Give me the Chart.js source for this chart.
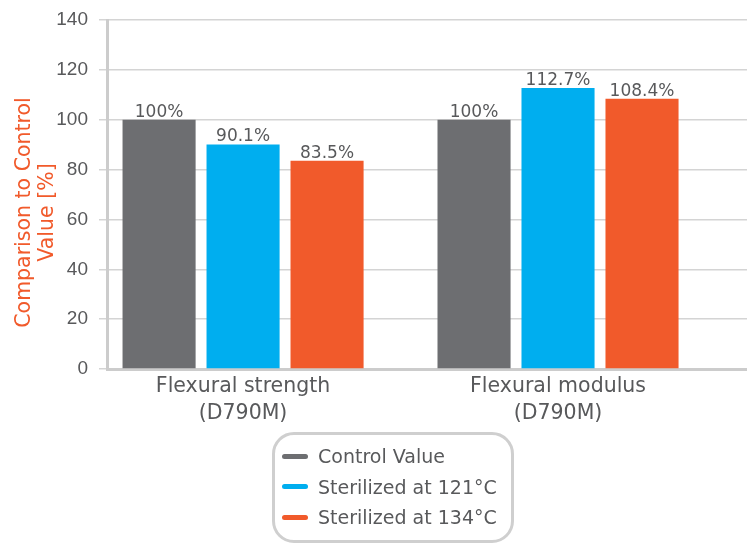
<!DOCTYPE html>
<html>
<head>
<meta charset="utf-8">
<script src="https://cdn.jsdelivr.net/npm/chart.js@4"></script>
<style>
  html, body { margin: 0; padding: 0; background: #fff; }
  #wrap { position: relative; width: 747px; height: 545px; }
  #legend {
    position: absolute; left: 272px; top: 432px; width: 236px; height: 105px;
    border: 3px solid #cfcfcf; border-radius: 22px;
    font-family: "DejaVu Sans", sans-serif; font-size: 19px; color: #58595b;
    box-sizing: content-box;
  }
  #legend .item { display: flex; align-items: center; height: 30.5px; margin-left: 7px; }
  #legend .item:first-child { margin-top: 6px; }
  #legend .swatch { width: 26px; height: 5px; border-radius: 3px; margin-right: 10px; }
</style>
</head>
<body>
<div id="wrap">
  <canvas id="chart" width="747" height="545"></canvas>
  <div id="legend"></div>
</div>
<script>
var categories = [['Flexural strength', '(D790M)'], ['Flexural modulus', '(D790M)']];
var seriesNames = ['Control Value', 'Sterilized at 121°C', 'Sterilized at 134°C'];
var controlValue = [100, 100];
var sterilized121 = [90.1, 112.7];
var sterilized134 = [83.5, 108.4];
var yTicks = [0, 20, 40, 60, 80, 100, 120, 140];
var yTitle = ['Comparison to Control', 'Value [%]'];

var colors = ['#6d6e71', '#00aeef', '#f15a2b'];
var textGray = '#58595b';

function points(values) {
    return values.map(function (v, i) { return { x: i + 1, y: v }; });
}

function fmt(v) {
    return (v % 1 === 0 ? v : v.toFixed(1)) + '%';
}

// value labels sitting on top of each bar
var barLabels = {
    id: 'barLabels',
    afterDatasetsDraw: function (chart) {
        var ctx = chart.ctx;
        ctx.save();
        ctx.font = '17px "DejaVu Sans", sans-serif';
        ctx.fillStyle = textGray;
        ctx.textAlign = 'center';
        ctx.textBaseline = 'bottom';
        chart.data.datasets.forEach(function (ds, di) {
            chart.getDatasetMeta(di).data.forEach(function (bar, i) {
                ctx.fillText(fmt(ds.data[i].y), bar.x, bar.y + 1);
            });
        });
        ctx.restore();
    }
};

// rotated y axis title, drawn a little below the axis middle
var axisTitle = {
    id: 'axisTitle',
    afterDraw: function (chart) {
        var ctx = chart.ctx;
        var area = chart.chartArea;
        ctx.save();
        ctx.font = '20.5px "DejaVu Sans", sans-serif';
        ctx.fillStyle = '#f15a2b';
        ctx.textAlign = 'center';
        ctx.textBaseline = 'middle';
        ctx.translate(25, (area.top + area.bottom) / 2 + 18);
        ctx.rotate(-Math.PI / 2);
        yTitle.forEach(function (line, i) {
            ctx.fillText(line, 0, i * 23);
        });
        ctx.restore();
    }
};

var allValues = [controlValue, sterilized121, sterilized134];

var ctx = document.getElementById('chart').getContext('2d');
var chart = new Chart(ctx, {
    type: 'bar',
    data: {
        datasets: allValues.map(function (vals, k) {
            return {
                label: seriesNames[k],
                data: points(vals),
                backgroundColor: colors[k],
                borderWidth: 0,
                categoryPercentage: 0.8,
                barPercentage: 0.87
            };
        })
    },
    plugins: [barLabels, axisTitle],
    options: {
        responsive: false,
        animation: false,
        layout: { padding: { top: 20, right: 0, bottom: 114, left: 0 } },
        plugins: {
            legend: { display: false },
            tooltip: { enabled: false }
        },
        scales: {
            x: {
                type: 'linear',
                offset: false,
                min: 0.568,
                max: 2.6,
                afterBuildTicks: function (scale) {
                    scale.ticks = categories.map(function (c, i) { return { value: i + 1 }; });
                },
                afterFit: function (scale) { scale.height = 62; },
                ticks: {
                    autoSkip: false,
                    maxRotation: 0,
                    padding: 4,
                    color: textGray,
                    font: { family: '"DejaVu Sans", sans-serif', size: 20.5, lineHeight: 1.33 },
                    callback: function (value) { return categories[value - 1]; }
                },
                grid: { display: false, drawTicks: false },
                border: { color: '#cccccc', width: 3 }
            },
            y: {
                min: 0,
                max: 140,
                afterBuildTicks: function (scale) {
                    scale.ticks = yTicks.map(function (v) { return { value: v }; });
                },
                afterFit: function (scale) {
                    scale.width = 107;
                    scale.paddingTop = 0;
                    scale.paddingBottom = 0;
                },
                ticks: {
                    padding: 11,
                    color: textGray,
                    font: { family: '"Liberation Sans", sans-serif', size: 19 }
                },
                grid: { color: '#d4d4d4', lineWidth: 1.5, tickLength: 8 },
                border: { color: '#cccccc', width: 3 }
            }
        }
    }
});

// legend box under the chart
var legend = document.getElementById('legend');
seriesNames.forEach(function (name, k) {
    var item = document.createElement('div');
    item.className = 'item';
    var sw = document.createElement('span');
    sw.className = 'swatch';
    sw.style.background = colors[k];
    var tx = document.createElement('span');
    tx.textContent = name;
    item.appendChild(sw);
    item.appendChild(tx);
    legend.appendChild(item);
});
</script>
</body>
</html>
